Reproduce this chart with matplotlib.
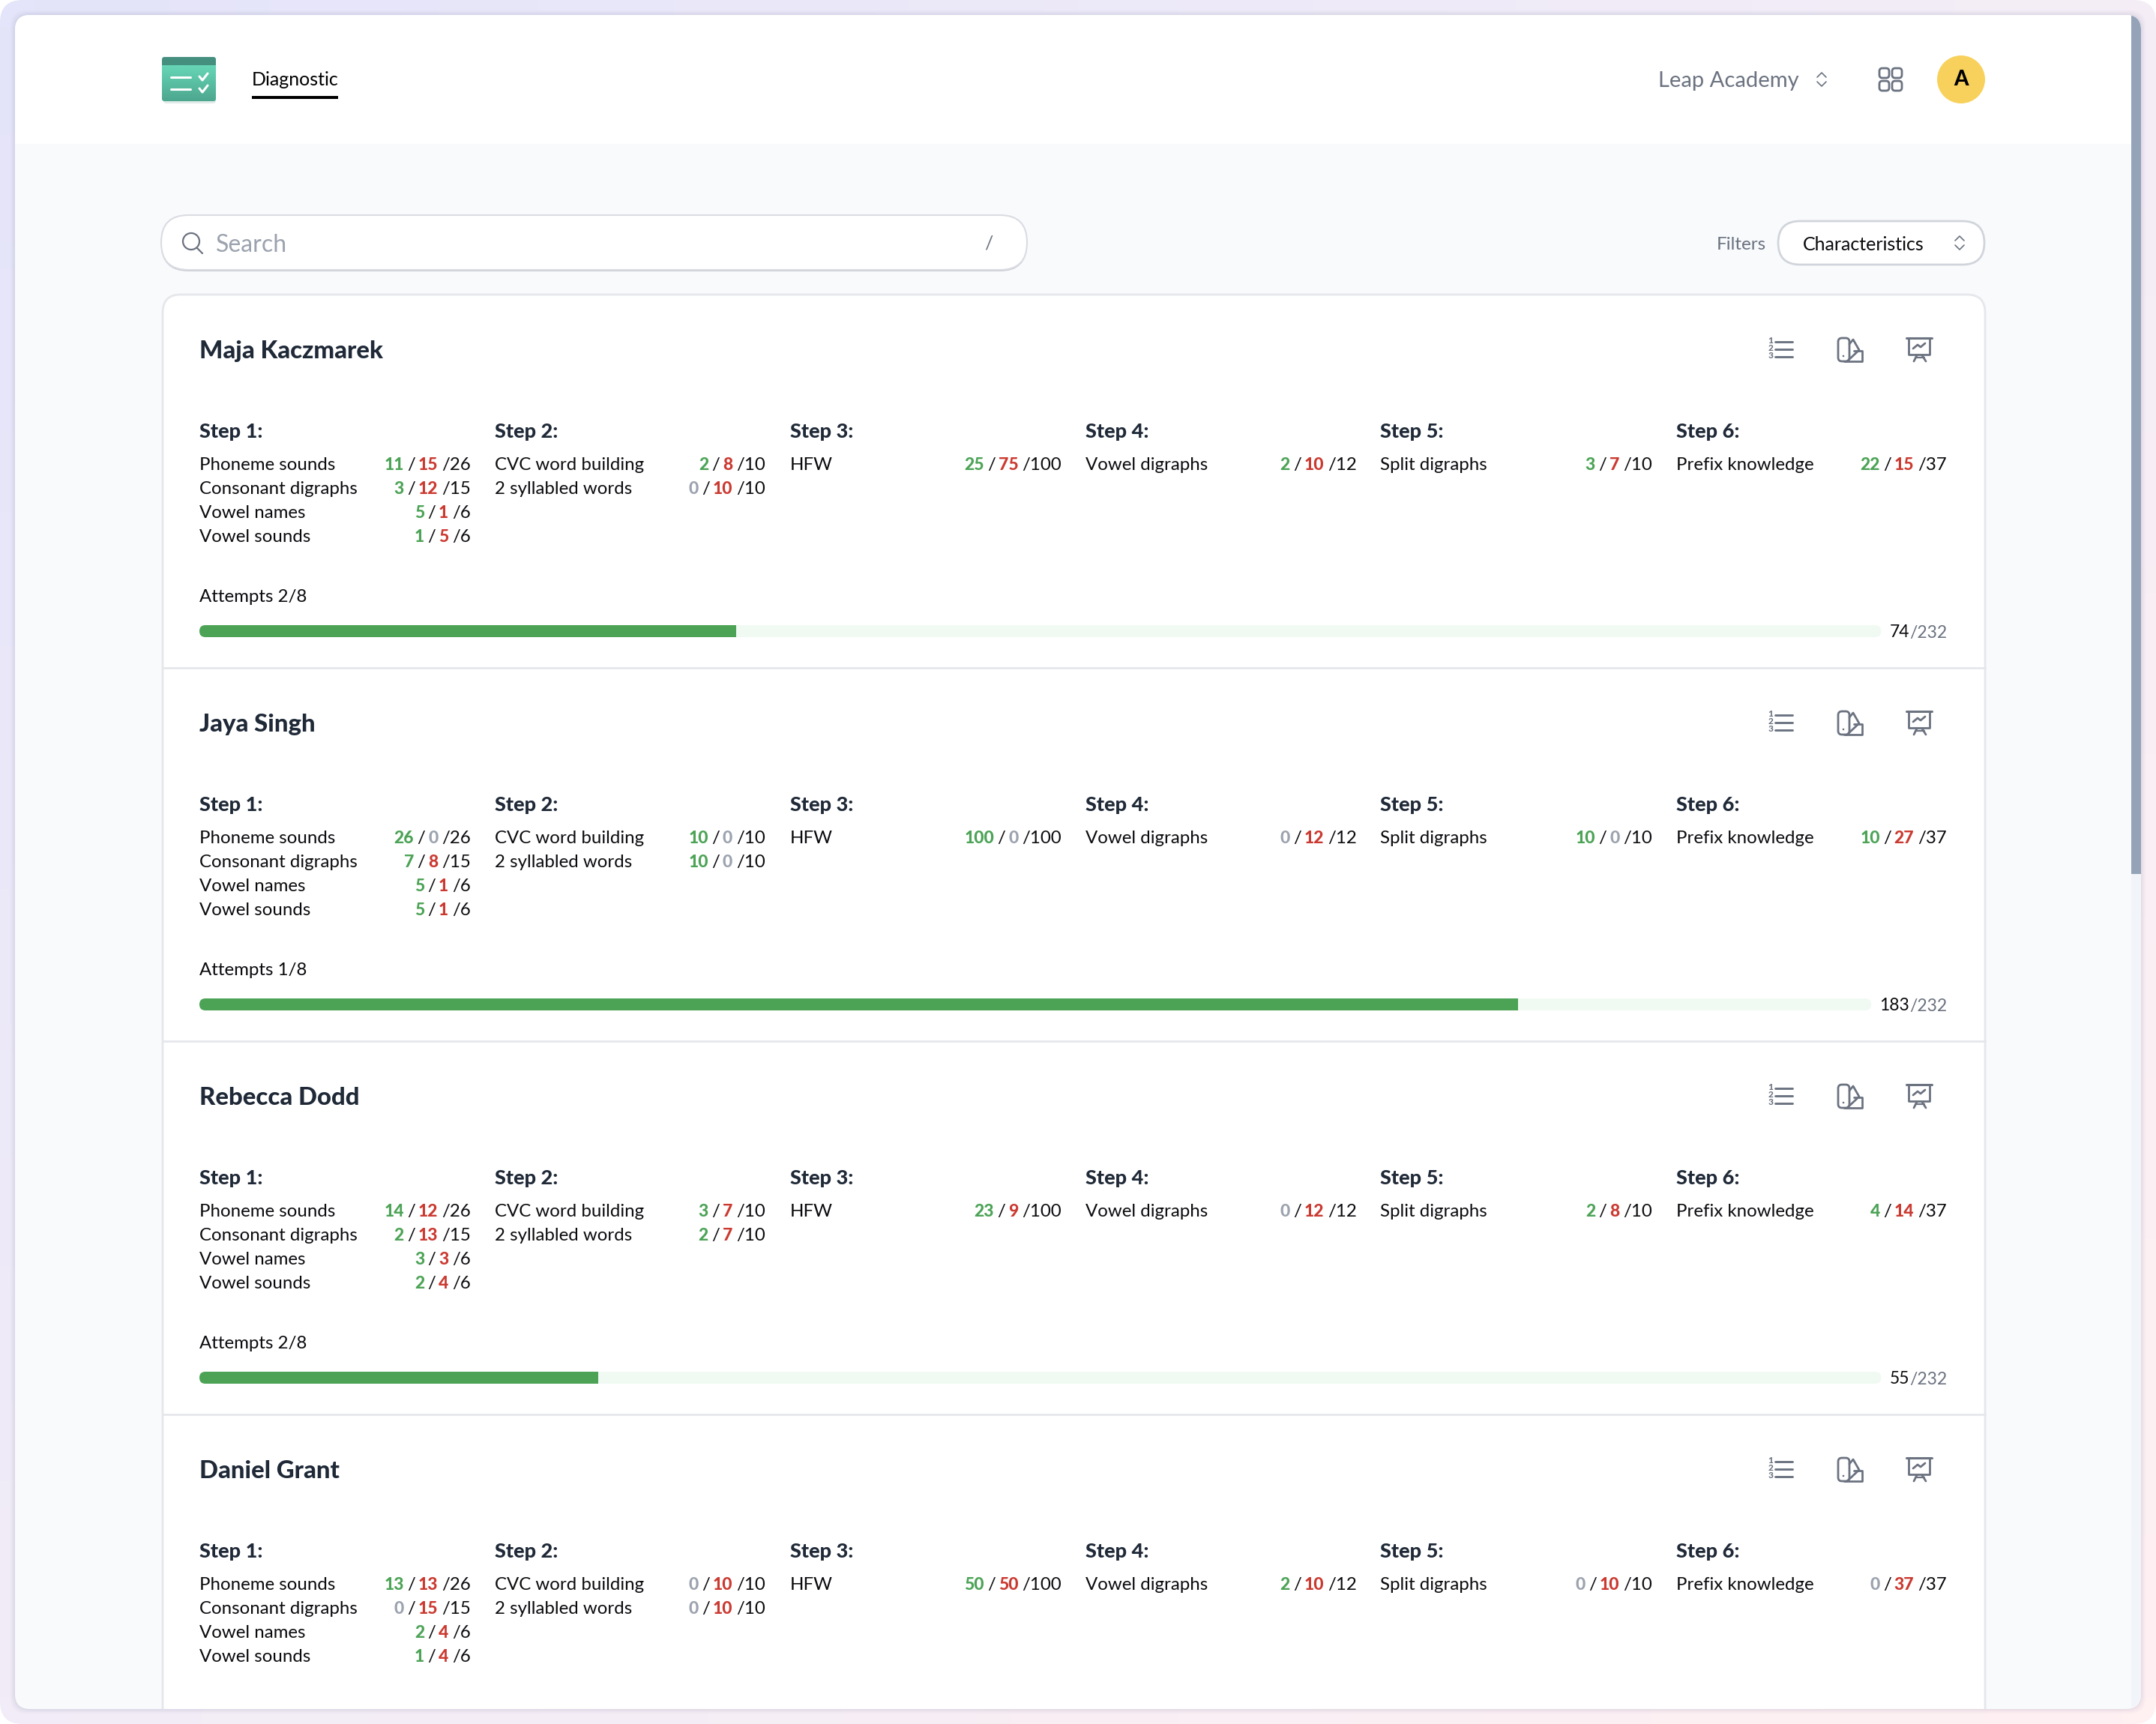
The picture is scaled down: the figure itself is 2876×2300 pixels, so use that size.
#!/usr/bin/env python
import numpy as np
import matplotlib
matplotlib.use("Agg")
import matplotlib.pyplot as plt
from matplotlib.patches import FancyBboxPatch, Rectangle, Circle
from matplotlib.colors import LinearSegmentedColormap
from matplotlib.transforms import Bbox, TransformedBbox

plt.rcParams['font.family'] = ['Lato', 'DejaVu Sans']

# ---- data ----
students = ["Maja Kaczmarek", "Jaya Singh", "Rebecca Dodd", "Daniel Grant"]
attempts = ["Attempts 2/8", "Attempts 1/8", "Attempts 2/8", "Attempts 2/8"]
scores = [74, 183, 55, None]
score_total = 232

steps = ["Step 1:", "Step 2:", "Step 3:", "Step 4:", "Step 5:", "Step 6:"]
skills = [
    ["Phoneme sounds", "Consonant digraphs", "Vowel names", "Vowel sounds"],
    ["CVC word building", "2 syllabled words"],
    ["HFW"],
    ["Vowel digraphs"],
    ["Split digraphs"],
    ["Prefix knowledge"],
]

maja = [
    [(11, 15, 26), (3, 12, 15), (5, 1, 6), (1, 5, 6)],
    [(2, 8, 10), (0, 10, 10)],
    [(25, 75, 100)],
    [(2, 10, 12)],
    [(3, 7, 10)],
    [(22, 15, 37)],
]
jaya = [
    [(26, 0, 26), (7, 8, 15), (5, 1, 6), (5, 1, 6)],
    [(10, 0, 10), (10, 0, 10)],
    [(100, 0, 100)],
    [(0, 12, 12)],
    [(10, 0, 10)],
    [(10, 27, 37)],
]
rebecca = [
    [(14, 12, 26), (2, 13, 15), (3, 3, 6), (2, 4, 6)],
    [(3, 7, 10), (2, 7, 10)],
    [(23, 9, 100)],
    [(0, 12, 12)],
    [(2, 8, 10)],
    [(4, 14, 37)],
]
daniel = [
    [(13, 13, 26), (0, 15, 15), (2, 4, 6), (1, 4, 6)],
    [(0, 10, 10), (0, 10, 10)],
    [(50, 50, 100)],
    [(2, 10, 12)],
    [(0, 10, 10)],
    [(0, 37, 37)],
]
results = [maja, jaya, rebecca, daniel]

# ---- colours ----
GREEN = "#4CA356"
RED = "#CB3A31"
ZERO = "#9CA3AF"
DARK = "#1F2937"
BLACK = "#0B0B0F"
GREY = "#6B7280"
LINE = "#E5E7EB"
PAGE = "#F8FAFC"
HEAVY = 900

W, H = 2876, 2300
fig = plt.figure(figsize=(W / 100, H / 100), dpi=100)
ax = fig.add_axes([0, 0, 1, 1])
ax.set_xlim(0, W)
ax.set_ylim(H, 0)
ax.axis('off')


def rounded(x0, y0, x1, y1, r, fc="none", ec="none", lw=0, z=1, **kw):
    p = FancyBboxPatch((x0, y0), x1 - x0, y1 - y0,
                       boxstyle="round,pad=0,rounding_size=%s" % r,
                       fc=fc, ec=ec, lw=lw, zorder=z, **kw)
    ax.add_patch(p)
    return p


def line(xs, ys, color=GREY, lw=2, z=5):
    ax.plot(xs, ys, color=color, lw=lw, zorder=z, solid_capstyle='round',
            solid_joinstyle='round')


def chevrons(x, y, color=GREY):
    line([x - 6, x, x + 6], [y - 3, y - 9, y - 3], color, 1.2)
    line([x - 6, x, x + 6], [y + 3, y + 9, y + 3], color, 1.2)


# outer lavender -> pink background with rounded corners
outer = rounded(0, 0, W, H, 30, fc="none", z=0)
cmap = LinearSegmentedColormap.from_list("bg", ["#E4E4FA", "#F3EDF7", "#FFF1F2"])
xx, yy = np.meshgrid(np.linspace(0, 1, 64), np.linspace(0, 1, 64))
bg = ax.imshow(xx * 0.55 + yy * 0.45, extent=(0, W, H, 0), cmap=cmap, aspect='auto', zorder=0)
bg.set_clip_path(outer)
ax.set_xlim(0, W)
ax.set_ylim(H, 0)

# window with soft shadow
for grow, alpha in [(6, 0.03), (4, 0.04), (2, 0.06)]:
    rounded(20 - grow, 20 - grow, 2856 + grow, 2280 + grow, 22, fc="#6B6B90", alpha=alpha, z=1)
window = rounded(20, 20, 2856, 2280, 20, fc=PAGE, z=2)

band = ax.add_patch(Rectangle((20, 20), 2836, 172, fc="white", ec="none", zorder=2))
band.set_clip_path(window)

# scrollbar
track = ax.add_patch(Rectangle((2843, 20), 13, 2260, fc="#F1F5F9", ec="none", zorder=3))
track.set_clip_path(window)
thumb = ax.add_patch(Rectangle((2843, 20), 13, 1146, fc="#94A3B8", ec="none", zorder=3))
thumb.set_clip_path(window)

# logo
rounded(218, 80, 288, 138, 4, fc="#3B7F6C", alpha=0.15, z=3)
logo = rounded(216, 76, 288, 135, 4, fc="#54B79C", z=4)
grad = LinearSegmentedColormap.from_list("logo", ["#66D6B6", "#4DA78F"])
im = ax.imshow(np.linspace(0, 1, 32).reshape(-1, 1), extent=(216, 288, 135, 87), cmap=grad,
               aspect='auto', zorder=4)
im.set_clip_path(logo)
ax.set_xlim(0, W)
ax.set_ylim(H, 0)
top = ax.add_patch(Rectangle((216, 76), 72, 11, fc="#458F7F", ec="none", zorder=5))
top.set_clip_path(logo)
line([228, 254], [103, 103], "white", 2.2, 6)
line([228, 254], [119, 119], "white", 2.2, 6)
line([266, 270, 277], [102, 107, 98], "white", 2.2, 6)
line([266, 270, 277], [118, 123, 114], "white", 2.2, 6)

ax.text(336, 106.5, "Diagnostic", fontsize=18, color="black", va='center', ha='left', zorder=6)
ax.add_patch(Rectangle((336, 128), 115, 4, fc="black", ec="none", zorder=6))

# top right
ax.text(2212, 108, "Leap Academy", fontsize=21, color=GREY, va='center', ha='left', zorder=6)
chevrons(2430, 106)
for gx, gy in [(2507, 91), (2524, 91), (2507, 108), (2524, 108)]:
    rounded(gx, gy, gx + 13, gy + 13, 4, ec=GREY, lw=2, z=6)
ax.add_patch(Circle((2616, 106), 32, fc="#F8D15C", ec="none", zorder=6))
ax.text(2616, 106.5, "A", fontsize=20, color="black", fontweight=HEAVY, va='center', ha='center', zorder=7)

# search + filter
rounded(215, 289, 1370, 362, 36, fc="#C9CBD3", z=3)
rounded(215, 287, 1370, 360, 36, fc="white", ec="#DADCE2", lw=1.5, z=4)
ax.add_patch(Circle((255, 322), 11, fc="none", ec=GREY, lw=1.6, zorder=5))
line([263, 270], [331, 338], GREY, 1.6)
ax.text(288, 327.5, "Search", fontsize=23, color=ZERO, va='center', ha='left', zorder=6)
ax.text(1319, 325, "/", fontsize=18, color=GREY, va='center', ha='center', zorder=6)

ax.text(2290, 326.5, "Filters", fontsize=17.5, color=GREY, va='center', ha='left', zorder=6)
rounded(2372, 295, 2647, 353, 29, fc="white", ec="#D1D5DB", lw=2, z=4)
ax.text(2405, 326.5, "Characteristics", fontsize=18, color=BLACK, va='center', ha='left', zorder=6)
chevrons(2614, 324)

# card container, runs past the bottom of the window
card = rounded(217, 393, 2648, 2400, 24, fc="white", ec=LINE, lw=2, z=3)
card.set_clip_path(window)

col_left = [266, 660, 1054, 1448, 1841, 2236]
col_right = [628, 1021, 1416, 1810, 2204, 2597]
ROW_H = 32
CARD_H = 498
FS = 17.3
LABEL_FS = 16.5
renderer = fig.canvas.get_renderer()
# Agg ignores a clip path on text, only the box works
window_box = TransformedBbox(Bbox([[0, 20], [W, 2280]]), ax.transData)


def clipped(artist):
    artist.set_clip_on(True)
    artist.set_clip_box(window_box)
    return artist


def card_icons(dy):
    # numbered list
    for i, ly in enumerate([456, 466, 476]):
        line([2368, 2391], [ly + dy, ly + dy], GREY, 2.1)
        ax.text(2362, ly - 1.5 + dy, str(i + 1), fontsize=8.5, color=GREY, fontweight=HEAVY,
                ha='center', va='center', zorder=6)
    # swatch
    rounded(2452, 451 + dy, 2467, 482 + dy, 5, ec=GREY, lw=2, z=5)
    line([2467, 2472, 2480, 2464], [459 + dy, 453 + dy, 467 + dy, 482 + dy], GREY, 2)
    line([2473, 2484, 2484, 2460], [468 + dy, 468 + dy, 482 + dy, 482 + dy], GREY, 2)
    ax.add_patch(Circle((2459, 475 + dy), 1.3, fc=GREY, ec="none", zorder=5))
    # presentation board
    line([2543, 2577], [451 + dy, 451 + dy], GREY, 2.2)
    line([2546, 2546, 2574, 2574], [451 + dy, 473 + dy, 473 + dy, 451 + dy], GREY, 2)
    line([2552, 2558, 2562, 2568], [465 + dy, 460 + dy, 463 + dy, 458 + dy], GREY, 2)
    line([2557, 2553], [474 + dy, 482 + dy], GREY, 2)
    line([2564, 2569], [474 + dy, 482 + dy], GREY, 2)
    line([2555, 2567], [477 + dy, 477 + dy], GREY, 1.6)


def measure(txt, wt='normal', fs=FS):
    t = ax.text(0, 0, txt, fontsize=fs, fontweight=wt)
    w = t.get_window_extent(renderer).width
    t.remove()
    return w


def score_text(xr, y, good, bad, total):
    # right aligned, coloured pieces laid out right to left
    pieces = [("/%d" % total, BLACK, 'normal', 5, FS),
              (str(bad), ZERO if bad == 0 else RED, HEAVY, 4, 16.5),
              ("/", BLACK, 'normal', 4, FS),
              (str(good), ZERO if good == 0 else GREEN, HEAVY, 0, 16.5)]
    x = xr
    for txt, col, wt, gap, fs in pieces:
        clipped(ax.text(x, y, txt, fontsize=fs, color=col, fontweight=wt, ha='right',
                        va='center', zorder=6))
        x = x - measure(txt, wt, fs) - gap


for k, name in enumerate(students):
    dy = k * CARD_H
    ax.text(266, 468.5 + dy, name, fontsize=23.7, color=DARK, fontweight=HEAVY, va='center',
            ha='left', zorder=6)
    card_icons(dy)
    for s in range(6):
        ax.text(col_left[s], 576 + dy, steps[s], fontsize=19.5, color=DARK, fontweight=HEAVY,
                va='center', ha='left', zorder=6)
        for r, skill in enumerate(skills[s]):
            y = 620.5 + dy + r * ROW_H
            clipped(ax.text(col_left[s], y, skill, fontsize=FS, color=BLACK, va='center', ha='left', zorder=6))
            good, bad, total = results[k][s][r]
            score_text(col_right[s], y, good, bad, total)
    clipped(ax.text(266, 796.5 + dy, attempts[k], fontsize=FS, color=BLACK, va='center', ha='left', zorder=6))

    if scores[k] is None:
        continue
    # progress bar
    ax.text(2597, 844 + dy, "/%d" % score_total, fontsize=LABEL_FS, color=GREY, va='center',
            ha='right', zorder=6)
    w = measure("/%d" % score_total, fs=LABEL_FS)
    ax.text(2597 - w, 844 + dy, str(scores[k]), fontsize=LABEL_FS, color=BLACK, va='center',
            ha='right', zorder=6)
    w += measure(str(scores[k]), fs=LABEL_FS)
    bar_end = 2597 - w - 11
    rounded(266, 834 + dy, bar_end, 850 + dy, 8, fc="#F0FAF3", z=4)
    fill_end = 266 + (bar_end - 266) * scores[k] / score_total
    f = rounded(266, 834 + dy, fill_end + 10, 850 + dy, 8, fc=GREEN, z=5)
    f.set_clip_path(Rectangle((266, 834 + dy), fill_end - 266, 16, transform=ax.transData))
    # divider under this card
    ax.plot([217, 2648], [891 + dy, 891 + dy], color=LINE, lw=2, zorder=4)

fig.savefig("out.png", dpi=100)
